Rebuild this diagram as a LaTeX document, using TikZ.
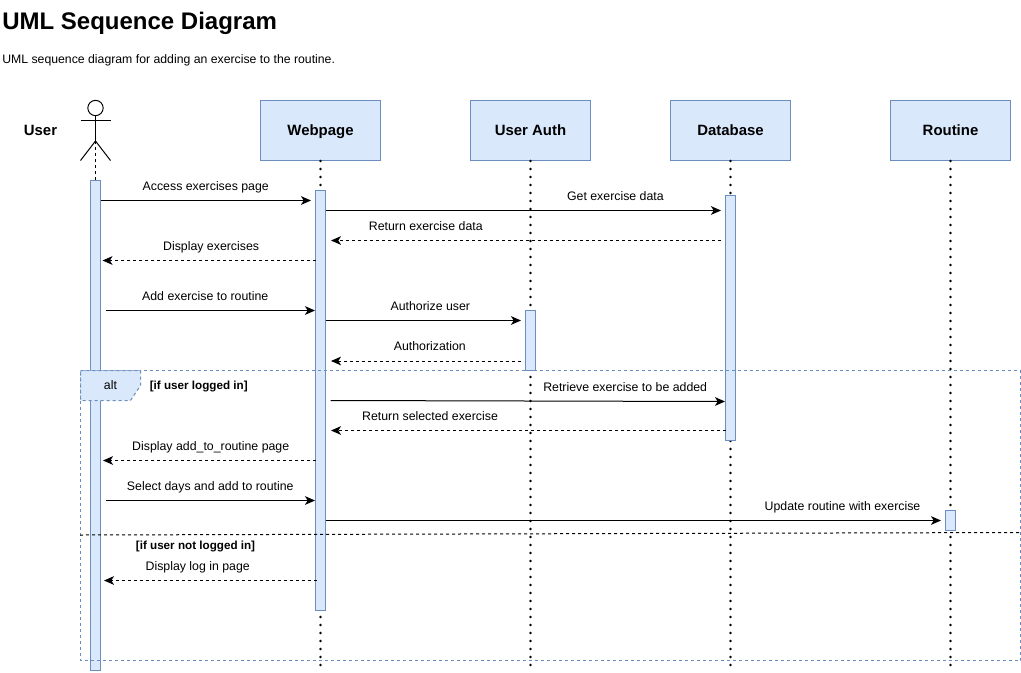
\documentclass[tikz,border=0pt]{standalone}
\usepackage{fontspec}
\setmainfont{Liberation Sans}
\usetikzlibrary{arrows.meta,positioning}
\definecolor{boxfill}{HTML}{DAE8FC}
\definecolor{boxline}{HTML}{6C8EBF}
\tikzset{
 obj/.style = {draw=boxline, fill=boxfill, line width=.75pt, minimum width=90pt, minimum height=45pt, inner sep=0pt, text height=10.5pt, text depth=2.5pt, font=\fontsize{11.2}{13}\selectfont\bfseries},
 bar/.style = {draw=boxline, fill=boxfill, line width=.75pt, minimum width=7.5pt, inner sep=0pt},
 lifeline/.style = {line width=2pt, line cap=round, dash pattern=on 0pt off 6pt},
 call/.style = {line width=.75pt, -{Stealth[length=7.5pt,width=6.5pt,inset=2pt]}},
 reply/.style = {call, dash pattern=on 2.25pt off 2.25pt},
 msg/.style = {above=5pt, inner sep=0pt, text height=6.8pt, text depth=2pt, font=\fontsize{9.25}{11}\selectfont},
 guard/.style = {inner sep=0pt, text height=8pt, text depth=2pt, font=\fontsize{8.75}{11}\selectfont\bfseries},
}
\begin{document}
\begin{tikzpicture}[x=.75pt, y=-.75pt]
 \useasboundingbox (0,0) rectangle (1021,672);

 \node[anchor=west, inner sep=0pt, font=\fontsize{18}{22}\selectfont\bfseries] (title) at (2,23.5) {UML Sequence Diagram};
 \node[anchor=west, inner sep=0pt, font=\fontsize{9.2}{11}\selectfont] (desc) at (2,60) {UML sequence diagram for adding an exercise to the routine.};

 % objects
 \node[inner sep=0pt, text height=10.5pt, text depth=2.5pt, font=\fontsize{11.2}{13}\selectfont\bfseries] (userlabel) at (40.5,130.5) {User};
 \node[obj] (webpage) at (320.5,130.5) {Webpage};
 \node[obj] (auth) at (530.5,130.5) {User Auth};
 \node[obj] (database) at (730.5,130.5) {Database};
 \node[obj] (routine) at (950.5,130.5) {Routine};

 % stick figure
 \node[draw, circle, line width=.75pt, minimum size=11.5pt, inner sep=0pt] (head) at (95.5,108) {};
 \coordinate (hip) at (95.5,141);
 \draw[line width=.75pt] (head) -- (hip);
 \draw[line width=.75pt] (80.5,120.5) -- (110.5,120.5);
 \draw[line width=.75pt] (80.5,160.5) -- (hip) -- (110.5,160.5);

 % lifelines
 \coordinate (userstop) at (95.5,180);
 \coordinate (webstop) at (320.5,672);
 \coordinate (authstop) at (530.5,672);
 \coordinate (dbstop) at (730.5,672);
 \coordinate (routinestop) at (950.5,672);
 \draw[line width=.75pt, dash pattern=on 2.25pt off 2.25pt] (hip) -- (userstop);
 \draw[lifeline] (webpage) -- (webstop);
 \draw[lifeline] (auth) -- (authstop);
 \draw[lifeline] (database) -- (dbstop);
 \draw[lifeline] (routine) -- (routinestop);

 % activations
 \node[bar, minimum height=367.5pt] (userbar) at (95.5,425.5) {};
 \node[bar, minimum height=315pt] (webbar) at (320.5,400.5) {};
 \node[bar, minimum height=45pt] (authbar) at (530.5,340.5) {};
 \node[bar, minimum height=183.75pt] (dbbar) at (730.5,318) {};
 \node[bar, minimum height=15pt] (routinebar) at (950.5,520.5) {};

 % alt frame
 \draw[boxline, line width=.75pt, dash pattern=on 2.25pt off 2.25pt] (80.5,370.5) rectangle (1020.5,660.5);
 \draw[boxline, fill=boxfill, line width=.75pt, dash pattern=on 2.25pt off 2.25pt] (80.5,370.5) -- (140.5,370.5) -- (140.5,385.5) -- (130.5,400.5) -- (80.5,400.5) -- cycle;
 \node[inner sep=0pt, text height=7.5pt, text depth=2pt, font=\fontsize{9.25}{11}\selectfont] (alt) at (110.5,385.5) {alt};
 \node[guard, anchor=west] (logged) at (149.5,385.5) {[if user logged in]};
 \node[guard] (notlogged) at (195.5,545.5) {[if user not logged in]};
 \coordinate (splitl) at (80,535);
 \coordinate (splitr) at (1020.5,532.5);
 \draw[line width=.75pt, dash pattern=on 2.25pt off 2.25pt] (splitl) -- (splitr);

 % messages
 \coordinate (a1) at (100.5,200.5);  \coordinate (b1) at (311,200.5);
 \coordinate (a2) at (325.5,210.5);  \coordinate (b2) at (721,210.5);
 \coordinate (a3) at (721,240.5);    \coordinate (b3) at (331,240.5);
 \coordinate (a4) at (315.5,260.5);  \coordinate (b4) at (102.5,260.5);
 \coordinate (a5) at (105.5,310.5);  \coordinate (b5) at (315,310.5);
 \coordinate (a6) at (325.5,320.5);  \coordinate (b6) at (521,320.5);
 \coordinate (a7) at (521,361);      \coordinate (b7) at (331,361);
 \coordinate (a8) at (330.5,400.5);  \coordinate (b8) at (725,401.5);
 \coordinate (a9) at (725.5,430.5);  \coordinate (b9) at (331,430.5);
 \coordinate (a10) at (315.5,460.5); \coordinate (b10) at (103,460.5);
 \coordinate (a11) at (105.5,500.5); \coordinate (b11) at (315,500.5);
 \coordinate (a12) at (325.5,520.5); \coordinate (b12) at (941,520.5);
 \coordinate (a13) at (317,580.5);   \coordinate (b13) at (104,580.5);

 \draw[call] (a1) -- node[msg, pos=.5] (m1) {Access exercises page} (b1);
 \draw[call] (a2) -- node[msg, pos=.733] (m2) {Get exercise data} (b2);
 \draw[reply] (a3) -- node[msg, pos=.757] (m3) {Return exercise data} (b3);
 \draw[reply] (a4) -- node[msg, pos=.49] (m4) {Display exercises} (b4);
 \draw[call] (a5) -- node[msg, pos=.476] (m5) {Add exercise to routine} (b5);
 \draw[call] (a6) -- node[msg, pos=.536] (m6) {Authorize user} (b6);
 \draw[reply] (a7) -- node[msg, pos=.48, above=5.7pt] (m7) {Authorization} (b7);
 \draw[call] (a8) -- node[msg, pos=.747] (m8) {Retrieve exercise to be added} (b8);
 \draw[reply] (a9) -- node[msg, pos=.749] (m9) {Return selected exercise} (b9);
 \draw[reply] (a10) -- node[msg, pos=.493] (m10) {Display add\_to\_routine page} (b10);
 \draw[call] (a11) -- node[msg, pos=.5] (m11) {Select days and add to routine} (b11);
 \draw[call] (a12) -- node[msg, pos=.84] (m12) {Update routine with exercise} (b12);
 \draw[reply] (a13) -- node[msg, pos=.56] (m13) {Display log in page} (b13);
\end{tikzpicture}
\end{document}
